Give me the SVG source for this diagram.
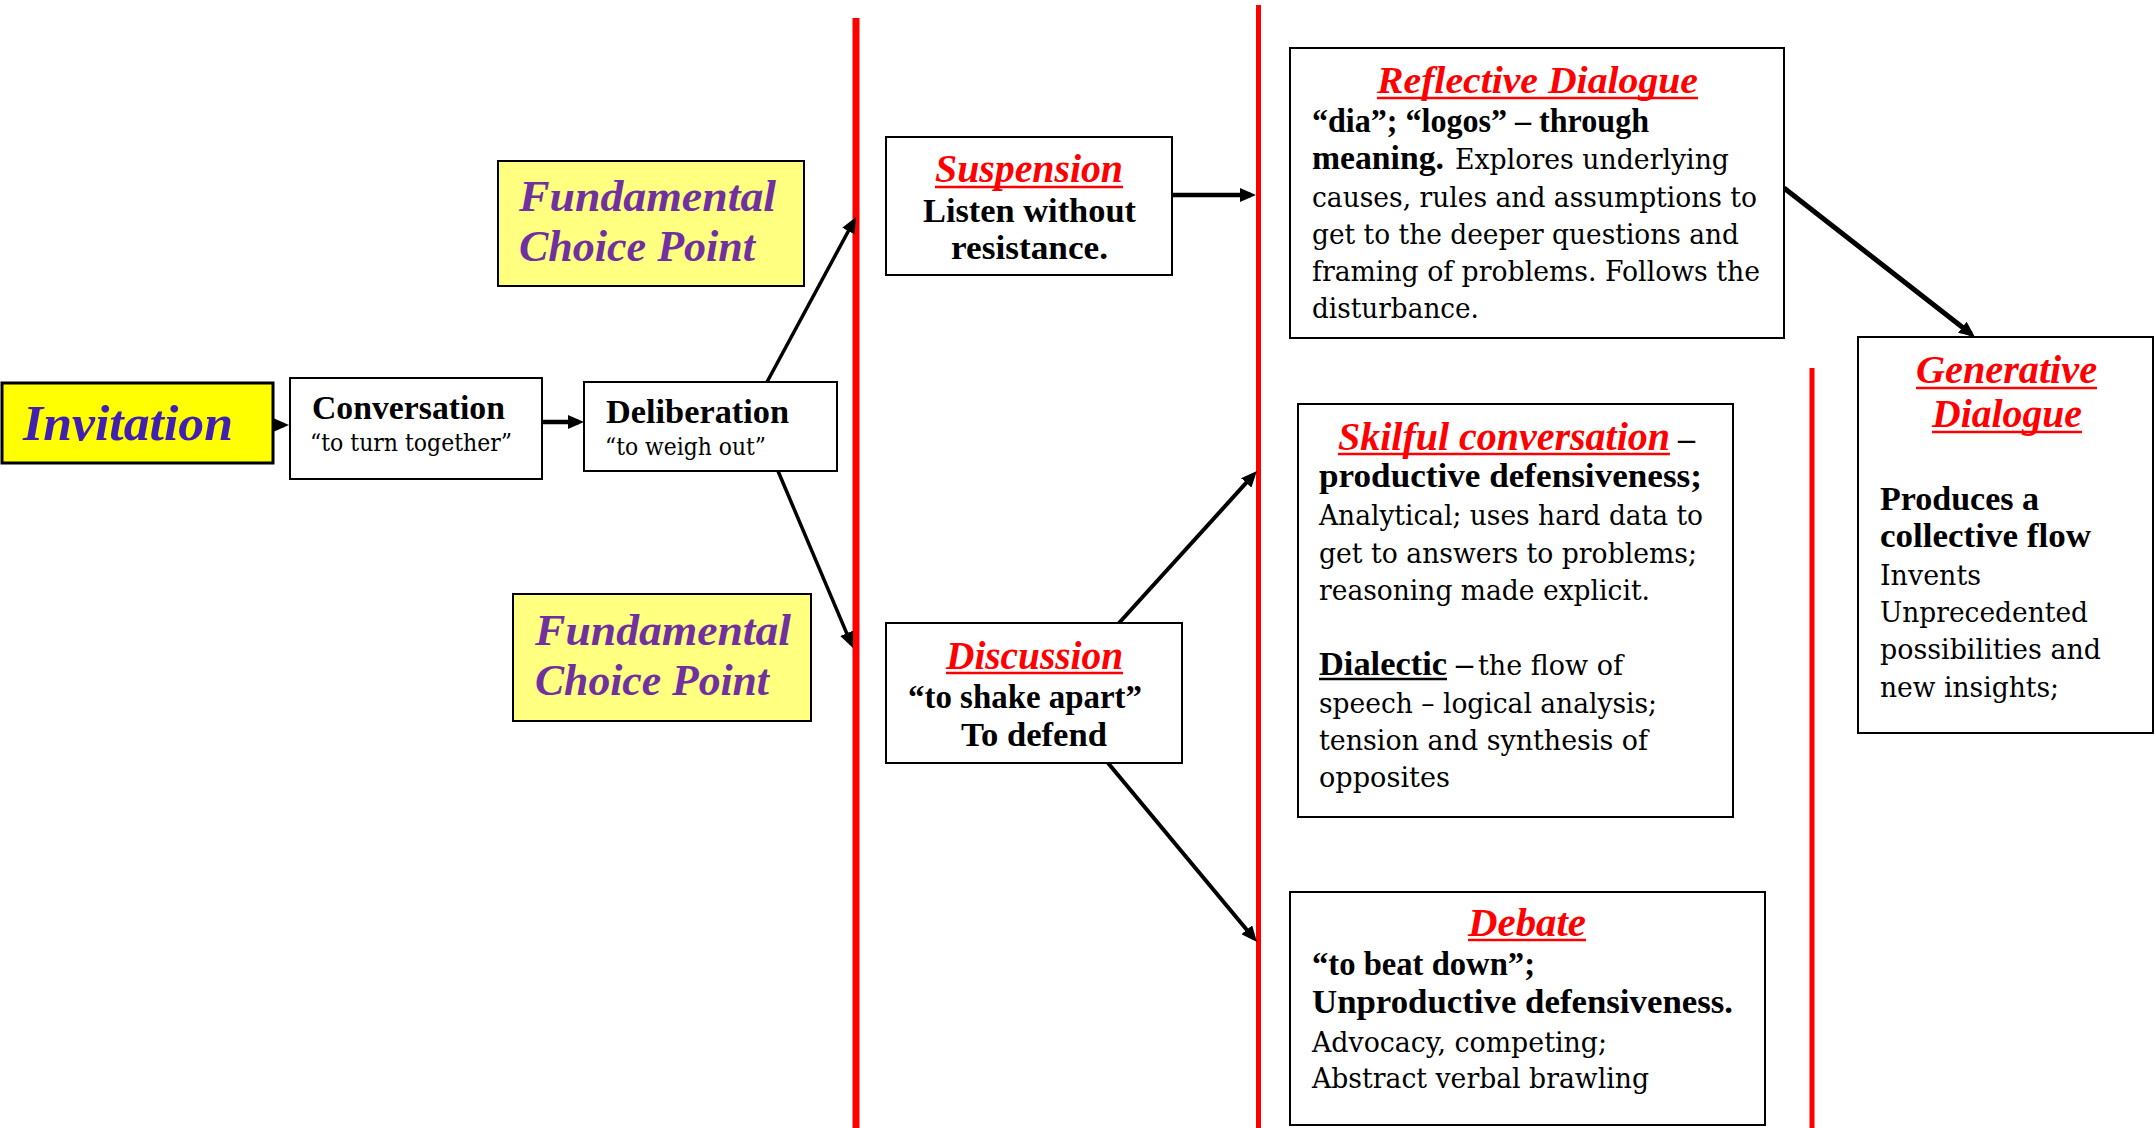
<svg xmlns="http://www.w3.org/2000/svg" width="2156" height="1128" viewBox="0 0 2156 1128">
<defs>
<marker id="ah" markerUnits="userSpaceOnUse" markerWidth="16" markerHeight="14" refX="11" refY="7" orient="auto">
<path d="M0,0 L16,7 L0,14 z" fill="#000"/>
</marker>
<style>
.box{fill:#fff;stroke:#000;stroke-width:2}
.yel{fill:#FFFF80;stroke:#000;stroke-width:2}
.inv{fill:#FFFF00;stroke:#000;stroke-width:3}
.ttl{font-family:"Liberation Serif",serif;font-weight:bold;font-style:italic;fill:#FF0000}
.fcp{font-family:"Liberation Serif",serif;font-weight:bold;font-style:italic;fill:#7030A0;font-size:45px}
.b{font-family:"Liberation Serif",serif;font-weight:bold;font-size:34px;fill:#000}
.r{font-family:"DejaVu Serif",serif;font-size:28px;fill:#000}
.rs{font-family:"DejaVu Serif",serif;font-size:24px;fill:#000}
.ul{stroke:#FF0000;stroke-width:2.5}
.red{stroke:#FF0000;fill:none}
.con{stroke:#000;fill:none;marker-end:url(#ah)}
</style>
</defs>
<rect width="2156" height="1128" fill="#fff"/>
<g id="dividers">
<line class="red" x1="856" y1="18" x2="856" y2="1128" stroke-width="7"/>
<line class="red" x1="1258.5" y1="5" x2="1258.5" y2="1128" stroke-width="5"/>
<line class="red" x1="1812" y1="368" x2="1812" y2="1128" stroke-width="5"/>
</g>
<g id="connectors">
<line class="con" x1="249" y1="425" x2="284" y2="425" stroke-width="4.5"/>
<line class="con" x1="542" y1="422" x2="579" y2="422" stroke-width="4.5"/>
<line class="con" x1="767" y1="382" x2="853.6" y2="221.4" stroke-width="3.5"/>
<line class="con" x1="778" y1="471" x2="851" y2="643.4" stroke-width="3.5"/>
<line class="con" x1="1168" y1="195" x2="1251" y2="195" stroke-width="4.5"/>
<line class="con" x1="1119" y1="623" x2="1253.6" y2="474.7" stroke-width="4"/>
<line class="con" x1="1108" y1="763" x2="1253.8" y2="938.2" stroke-width="4"/>
<line class="con" x1="1784" y1="188" x2="1971" y2="334" stroke-width="5"/>
</g>
<g id="invitation">
<rect class="inv" x="2" y="383" width="271" height="80"/>
<text x="23" y="440" textLength="210" lengthAdjust="spacingAndGlyphs" style="font-family:'Liberation Serif',serif;font-weight:bold;font-style:italic;font-size:51px;fill:#4020B0">Invitation</text>
</g>
<g id="conversation">
<rect class="box" x="290" y="378" width="252" height="101"/>
<text class="b" x="312" y="419" textLength="193" lengthAdjust="spacingAndGlyphs">Conversation</text>
<text class="rs" x="310" y="451" textLength="202" lengthAdjust="spacingAndGlyphs">“to turn together”</text>
</g>
<g id="deliberation">
<rect class="box" x="584" y="382" width="253" height="89"/>
<text class="b" x="606" y="423" textLength="183" lengthAdjust="spacingAndGlyphs">Deliberation</text>
<text class="rs" x="605" y="455" textLength="161" lengthAdjust="spacingAndGlyphs">“to weigh out”</text>
</g>
<g id="choice-point-1">
<rect class="yel" x="498" y="161" width="306" height="125"/>
<text class="fcp" x="519" y="211" textLength="257" lengthAdjust="spacingAndGlyphs">Fundamental</text>
<text class="fcp" x="519" y="261" textLength="236" lengthAdjust="spacingAndGlyphs">Choice Point</text>
</g>
<g id="choice-point-2">
<rect class="yel" x="513" y="594" width="298" height="127"/>
<text class="fcp" x="535" y="645" textLength="256" lengthAdjust="spacingAndGlyphs">Fundamental</text>
<text class="fcp" x="535" y="695" textLength="234" lengthAdjust="spacingAndGlyphs">Choice Point</text>
</g>
<g id="suspension">
<rect class="box" x="886" y="137" width="286" height="138"/>
<text class="ttl" x="935" y="182" font-size="40" textLength="188" lengthAdjust="spacingAndGlyphs">Suspension</text>
<line class="ul" x1="935" y1="187" x2="1123" y2="187"/>
<text class="b" x="923" y="222" textLength="213" lengthAdjust="spacingAndGlyphs">Listen without</text>
<text class="b" x="951" y="259" textLength="157" lengthAdjust="spacingAndGlyphs">resistance.</text>
</g>
<g id="discussion">
<rect class="box" x="886" y="623" width="296" height="140"/>
<text class="ttl" x="946" y="669" font-size="39" textLength="177" lengthAdjust="spacingAndGlyphs">Discussion</text>
<line class="ul" x1="946" y1="673" x2="1123" y2="673"/>
<text class="b" x="908" y="708" textLength="234" lengthAdjust="spacingAndGlyphs">“to shake apart”</text>
<text class="b" x="961" y="746" textLength="146" lengthAdjust="spacingAndGlyphs">To defend</text>
</g>
<g id="reflective-dialogue">
<rect class="box" x="1290" y="48" width="494" height="290"/>
<text class="ttl" x="1377" y="93" font-size="37" textLength="321" lengthAdjust="spacingAndGlyphs">Reflective Dialogue</text>
<line class="ul" x1="1377" y1="98" x2="1698" y2="98"/>
<text class="b" x="1312" y="132" textLength="337" lengthAdjust="spacingAndGlyphs">“dia”; “logos” – through</text>
<text class="b" x="1312" y="169" textLength="132" lengthAdjust="spacingAndGlyphs">meaning.</text>
<text class="r" x="1455" y="169" textLength="274" lengthAdjust="spacingAndGlyphs">Explores underlying</text>
<text class="r" x="1312" y="207" textLength="445" lengthAdjust="spacingAndGlyphs">causes, rules and assumptions to</text>
<text class="r" x="1312" y="244" textLength="427" lengthAdjust="spacingAndGlyphs">get to the deeper questions and</text>
<text class="r" x="1312" y="281" textLength="448" lengthAdjust="spacingAndGlyphs">framing of problems. Follows the</text>
<text class="r" x="1312" y="318" textLength="167" lengthAdjust="spacingAndGlyphs">disturbance.</text>
</g>
<g id="skilful-conversation">
<rect class="box" x="1298" y="404" width="435" height="413"/>
<text class="ttl" x="1338" y="450" font-size="40" textLength="332" lengthAdjust="spacingAndGlyphs">Skilful conversation</text>
<line class="ul" x1="1338" y1="454" x2="1670" y2="454"/>
<text class="b" x="1678" y="450">–</text>
<text class="b" x="1319" y="487" textLength="383" lengthAdjust="spacingAndGlyphs">productive defensiveness;</text>
<text class="r" x="1319" y="525" textLength="384" lengthAdjust="spacingAndGlyphs">Analytical; uses hard data to</text>
<text class="r" x="1319" y="563" textLength="378" lengthAdjust="spacingAndGlyphs">get to answers to problems;</text>
<text class="r" x="1319" y="600" textLength="331" lengthAdjust="spacingAndGlyphs">reasoning made explicit.</text>
<text class="b" x="1319" y="675" textLength="128" lengthAdjust="spacingAndGlyphs">Dialectic</text>
<line x1="1319" y1="679" x2="1447" y2="679" stroke="#000" stroke-width="2.5"/>
<text class="b" x="1456" y="675">–</text>
<text class="r" x="1478" y="675" textLength="145" lengthAdjust="spacingAndGlyphs">the flow of</text>
<text class="r" x="1319" y="713" textLength="338" lengthAdjust="spacingAndGlyphs">speech – logical analysis;</text>
<text class="r" x="1319" y="750" textLength="329" lengthAdjust="spacingAndGlyphs">tension and synthesis of</text>
<text class="r" x="1319" y="787" textLength="131" lengthAdjust="spacingAndGlyphs">opposites</text>
</g>
<g id="debate">
<rect class="box" x="1290" y="892" width="475" height="233"/>
<text class="ttl" x="1468" y="936" font-size="40" textLength="118" lengthAdjust="spacingAndGlyphs">Debate</text>
<line class="ul" x1="1468" y1="940" x2="1586" y2="940"/>
<text class="b" x="1312" y="975" textLength="223" lengthAdjust="spacingAndGlyphs">“to beat down”;</text>
<text class="b" x="1312" y="1013" textLength="421" lengthAdjust="spacingAndGlyphs">Unproductive defensiveness.</text>
<text class="r" x="1312" y="1052" textLength="295" lengthAdjust="spacingAndGlyphs">Advocacy, competing;</text>
<text class="r" x="1312" y="1088" textLength="337" lengthAdjust="spacingAndGlyphs">Abstract verbal brawling</text>
</g>
<g id="generative-dialogue">
<rect class="box" x="1858" y="337" width="295" height="396"/>
<text class="ttl" x="1916" y="383" font-size="40" textLength="181" lengthAdjust="spacingAndGlyphs">Generative</text>
<line class="ul" x1="1916" y1="388" x2="2097" y2="388"/>
<text class="ttl" x="1932" y="427" font-size="40" textLength="150" lengthAdjust="spacingAndGlyphs">Dialogue</text>
<line class="ul" x1="1932" y1="432" x2="2082" y2="432"/>
<text class="b" x="1880" y="510" textLength="159" lengthAdjust="spacingAndGlyphs">Produces a</text>
<text class="b" x="1880" y="547" textLength="211" lengthAdjust="spacingAndGlyphs">collective flow</text>
<text class="r" x="1880" y="585" textLength="101" lengthAdjust="spacingAndGlyphs">Invents</text>
<text class="r" x="1880" y="622" textLength="208" lengthAdjust="spacingAndGlyphs">Unprecedented</text>
<text class="r" x="1880" y="659" textLength="221" lengthAdjust="spacingAndGlyphs">possibilities and</text>
<text class="r" x="1880" y="697" textLength="179" lengthAdjust="spacingAndGlyphs">new insights;</text>
</g>
</svg>
